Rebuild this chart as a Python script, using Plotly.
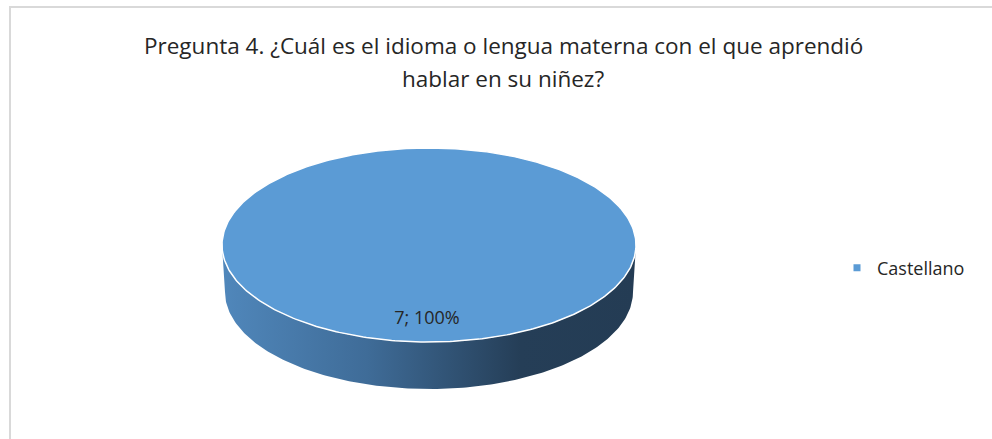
import numpy as np
import plotly.graph_objects as go

# ---- data ----
categories = ["Castellano"]
values = [7]
title_lines = ["Pregunta 4. ¿Cuál es el idioma o lengua materna con el que aprendió",
               "hablar en su niñez?"]

# ---- geometry / style (pixel space) ----
W, H = 992, 439
cx, cy = 429, 245
rx, ry = 207, 97
depth = 47
top_color = "#5b9bd5"
font_family = "'Open Sans', Lato, sans-serif"

total = sum(values)
fig = go.Figure()

# front side wall of 3D pie (visible lower half)
t = np.linspace(0, np.pi, 200)
xs_top = cx + rx * np.cos(t)
ys_top = cy + ry * np.sin(t)
rxb = rx - 3
xs_bot = cx + rxb * np.cos(t[::-1])
ys_bot = cy + depth + ry * np.sin(t[::-1])
fig.add_trace(go.Scatter(
    x=np.concatenate([xs_top, xs_bot]), y=np.concatenate([ys_top, ys_bot]),
    mode="lines", fill="toself", line=dict(width=0, color="rgba(0,0,0,0)"),
    fillgradient=dict(type="horizontal",
                      colorscale=[[0, "#5087bb"], [0.35, "#3f6c98"],
                                  [0.72, "#253e57"], [1, "#243c54"]]),
    hoverinfo="skip", showlegend=False))

# top faces of slices
start = -np.pi / 2
for cat, v in zip(categories, values):
    frac = v / total
    ang = np.linspace(start, start + 2 * np.pi * frac, 400)
    xs = cx + rx * np.cos(ang)
    ys = cy + ry * np.sin(ang)
    if frac < 1:
        xs = np.concatenate([[cx], xs, [cx]])
        ys = np.concatenate([[cy], ys, [cy]])
    fig.add_trace(go.Scatter(
        x=xs, y=ys, mode="lines", fill="toself", fillcolor=top_color,
        line=dict(color="white", width=1.5), hoverinfo="skip", showlegend=False))
    mid = start + np.pi * frac
    if frac >= 1:
        lx, ly = cx - 2, cy + 0.77 * ry
    else:
        lx, ly = cx + 0.6 * rx * np.cos(mid), cy + 0.6 * ry * np.sin(mid)
    fig.add_trace(go.Scatter(
        x=[lx], y=[ly], mode="text", text=[f"{v}; {frac:.0%}"],
        textfont=dict(family=font_family, size=18, color="#262626"),
        hoverinfo="skip", showlegend=False))
    # legend entry
    fig.add_trace(go.Scatter(
        x=[None], y=[None], mode="markers", name=cat,
        marker=dict(symbol="square", size=7, color=top_color)))
    start += 2 * np.pi * frac

for line_text, ly in zip(title_lines, [45, 78]):
    fig.add_annotation(
        x=503, y=ly, xref="x", yref="y", text=line_text, showarrow=False,
        font=dict(family=font_family, size=22.5, color="#262626"),
        align="center", xanchor="center", yanchor="middle")

# chart frame
fig.add_shape(type="rect", xref="x", yref="y", x0=10, y0=7, x1=W + 5, y1=H + 5,
              line=dict(color="#d9d9d9", width=2), fillcolor="rgba(0,0,0,0)", layer="below")

fig.update_layout(
    width=W, height=H, margin=dict(l=0, r=0, t=0, b=0),
    paper_bgcolor="white", plot_bgcolor="white",
    xaxis=dict(range=[0, W], visible=False, fixedrange=True),
    yaxis=dict(range=[H, 0], visible=False, fixedrange=True),
    showlegend=True,
    legend=dict(x=837 / W, y=1 - 268 / H, xanchor="left", yanchor="middle",
                itemwidth=30,
                font=dict(family=font_family, size=18, color="#262626"),
                bgcolor="rgba(0,0,0,0)"),
)

fig.write_html("out.html", config={"displayModeBar": False},
               post_script="document.body.style.margin='0';")
